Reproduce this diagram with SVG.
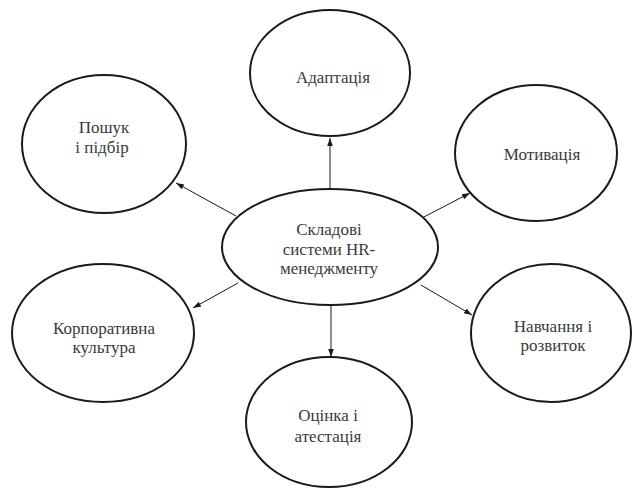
<svg xmlns="http://www.w3.org/2000/svg" width="633" height="488" viewBox="0 0 633 488">
<style>
.n{fill:#fff;stroke:#1a1a1a;stroke-width:2}
.t{font-family:'Liberation Serif','Times New Roman',Tinos,'DejaVu Serif',serif;font-size:17px;fill:#3a3a3a;text-anchor:middle}
.c line{stroke:#1a1a1a;stroke-width:1;marker-end:url(#a)}
</style>
<defs>
<marker id="a" viewBox="0 0 10 10" refX="10" refY="5" markerWidth="8" markerHeight="8" markerUnits="userSpaceOnUse" orient="auto">
<path d="M0,1.5 L10,5 L0,8.5 z" fill="#1a1a1a"/>
</marker>
</defs>
<rect width="633" height="488" fill="#fff"/>
<g class="c">
<line x1="330" y1="190" x2="330" y2="138"/>
<line x1="236" y1="216" x2="176" y2="183"/>
<line x1="420" y1="219" x2="470" y2="193"/>
<line x1="238" y1="283" x2="193" y2="308"/>
<line x1="421" y1="285" x2="472" y2="315"/>
<line x1="331" y1="305" x2="331" y2="357"/>
</g>
<g id="center"><ellipse class="n" cx="330" cy="247" rx="108" ry="58"/>
<text class="t" x="329" y="235">Складові</text><text class="t" x="329" y="255">системи HR-</text><text class="t" x="329" y="274">менеджменту</text></g>
<g id="adaptation"><ellipse class="n" cx="330" cy="73" rx="80" ry="63"/>
<text class="t" x="333" y="83">Адаптація</text></g>
<g id="search"><ellipse class="n" cx="104" cy="144" rx="82" ry="69"/>
<text class="t" x="104" y="133">Пошук</text><text class="t" x="102" y="153">і підбір</text></g>
<g id="motivation"><ellipse class="n" cx="536" cy="153" rx="81" ry="68"/>
<text class="t" x="542" y="160">Мотивація</text></g>
<g id="culture"><ellipse class="n" cx="103" cy="333" rx="91" ry="69"/>
<text class="t" x="104" y="334">Корпоративна</text><text class="t" x="104" y="353">культура</text></g>
<g id="training"><ellipse class="n" cx="551" cy="333" rx="80" ry="69"/>
<text class="t" x="553" y="332">Навчання і</text><text class="t" x="553" y="351">розвиток</text></g>
<g id="evaluation"><ellipse class="n" cx="329" cy="422" rx="83" ry="65"/>
<text class="t" x="328" y="421">Оцінка і</text><text class="t" x="328" y="442">атестація</text></g>
</svg>
